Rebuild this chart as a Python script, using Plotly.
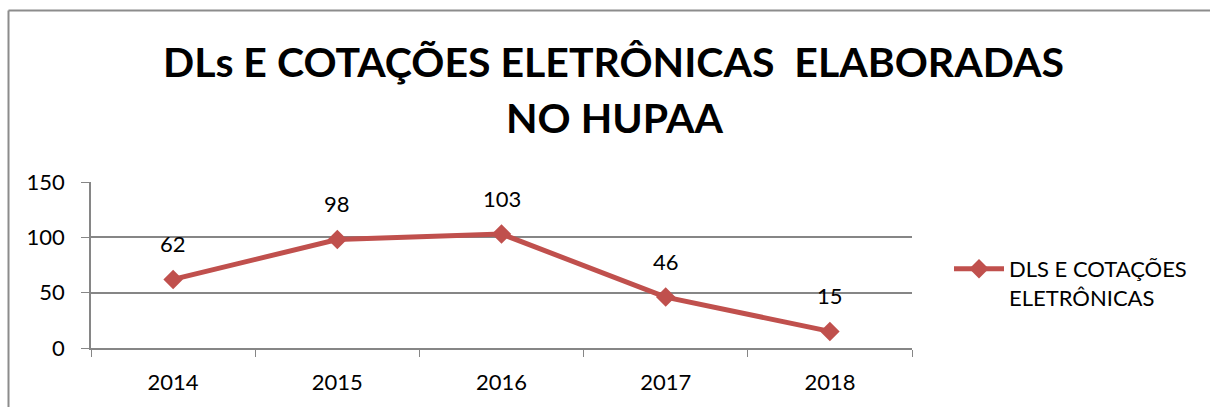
import plotly.graph_objects as go

years = ["2014", "2015", "2016", "2017", "2018"]
values = [62, 98, 103, 46, 15]
series_name = "DLS E COTAÇÕES<br>ELETRÔNICAS"
title_lines = ["DLs E COTAÇÕES ELETRÔNICAS  ELABORADAS", "NO HUPAA"]

W, H = 1210, 407
L, R, T, B = 91, 912, 182, 348  # plot area in px
pw, ph = R - L, B - T

def px(x):
    return (x - L) / pw

def py(y):
    return (B - y) / ph

FONT = "Lato"
RED = "#C0504D"
GRID = "#868686"

fig = go.Figure()
fig.add_trace(go.Scatter(
    x=years, y=values, mode="lines+markers", name=series_name,
    line=dict(color=RED, width=5),
    marker=dict(symbol="diamond", size=15, color=RED),
))

annotations = []
for i, v in enumerate(values):
    annotations.append(dict(x=i, y=v, xref="x", yref="y", text=str(v),
                            showarrow=False, yshift=36,
                            font=dict(family=FONT, size=22, color="#000")))
annotations.append(dict(x=px(613), y=py(62), xref="paper", yref="paper",
                        text="<b>" + title_lines[0] + "</b>", showarrow=False,
                        xanchor="center", yanchor="middle",
                        font=dict(family=FONT, size=41, color="#000")))
annotations.append(dict(x=px(614), y=py(117), xref="paper", yref="paper",
                        text="<b>" + title_lines[1] + "</b>", showarrow=False,
                        xanchor="center", yanchor="middle",
                        font=dict(family=FONT, size=41, color="#000")))

border = "#8c8c8c"
fig.update_layout(
    width=W, height=H,
    margin=dict(l=L, r=W - R, t=T, b=H - B, pad=0),
    paper_bgcolor="white", plot_bgcolor="white",
    showlegend=True,
    legend=dict(x=px(949), y=py(248), xanchor="left", yanchor="top",
                font=dict(family=FONT, size=22, color="#000"),
                itemwidth=50, tracegroupgap=0, valign="top"),
    annotations=annotations,
    shapes=[
        dict(type="line", xref="paper", yref="paper",
             x0=px(8.5), x1=px(1210), y0=py(10.5), y1=py(10.5),
             line=dict(color=border, width=2), layer="below"),
        dict(type="line", xref="paper", yref="paper",
             x0=px(8.5), x1=px(8.5), y0=py(10.5), y1=py(407),
             line=dict(color=border, width=2), layer="below"),
    ],
    xaxis=dict(type="category", showgrid=False, showline=True,
               linecolor=GRID, linewidth=1.5, ticks="outside",
               tickson="boundaries", ticklen=7, tickcolor=GRID,
               tickfont=dict(family=FONT, size=22, color="#000"),
               range=[-0.5, 4.5], ticklabelstandoff=14),
    yaxis=dict(range=[0, 150], dtick=50, showgrid=True, gridcolor=GRID,
               gridwidth=1.5, showline=True, linecolor=GRID, linewidth=1.5,
               ticks="outside", ticklen=8, tickcolor=GRID,
               tickfont=dict(family=FONT, size=22, color="#000"),
               zeroline=False, ticklabelstandoff=12),
)

fig.write_html("out.html")
